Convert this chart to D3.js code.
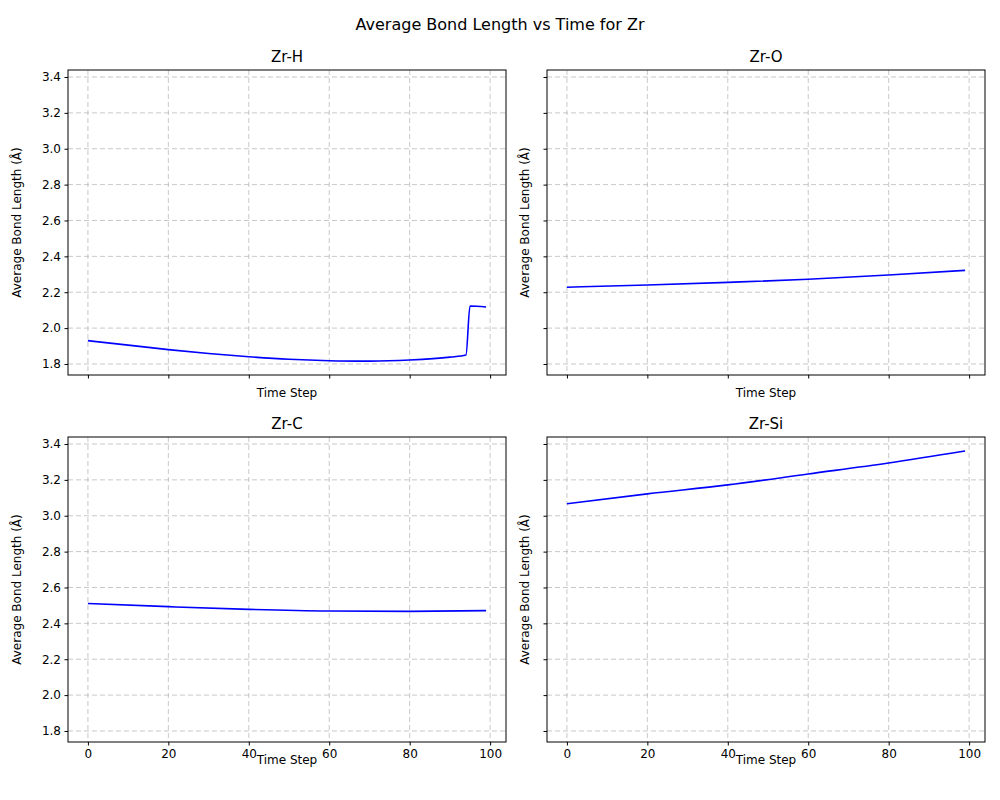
<!DOCTYPE html><html><head><script src="https://cdn.jsdelivr.net/npm/d3@7"></script>
<style>body{margin:0;background:#fff}text{font-family:"DejaVu Sans",sans-serif}</style></head><body><svg id="c" width="1000" height="800"></svg>
<script>
const titles=["Zr-H","Zr-O","Zr-C","Zr-Si"];
const tH=[0,10,20,30,40,50,60,67,70,80,90,94,95,99];
const vH=[1.93,1.905,1.88,1.858,1.84,1.826,1.818,1.816,1.816,1.822,1.838,1.85,2.123,2.118];
const tO=[0,20,40,60,80,99];
const vO=[2.228,2.24,2.255,2.272,2.296,2.322];
const tC=[0,20,40,60,80,99];
const vC=[2.511,2.493,2.478,2.469,2.467,2.471];
const tS=[0,20,40,60,80,99];
const vS=[3.067,3.122,3.172,3.233,3.294,3.361];
const xTicks=[0,20,40,60,80,100];
const yTicks=[1.8,2.0,2.2,2.4,2.6,2.8,3.0,3.2,3.4];
const series=[[tH,vH],[tO,vO],[tC,vC],[tS,vS]];
const svg=d3.select("#c");
svg.append("text").attr("x",500).attr("y",30).attr("text-anchor","middle").attr("font-size",16).text("Average Bond Length vs Time for Zr");
const panels=[[68,70],[547,70],[68,437],[547,437]];
const W=438,H=305;
panels.forEach((p,i)=>{
 const g=svg.append("g").attr("transform",`translate(${p[0]},${p[1]})`);
 const x=d3.scaleLinear().domain([-4.95,103.95]).range([0,W]);
 const y=d3.scaleLinear().domain([1.7385,3.439]).range([H,0]);
 g.selectAll(".gx").data(xTicks).join("line").attr("x1",d=>x(d)).attr("x2",d=>x(d)).attr("y1",0).attr("y2",H).attr("stroke","#b0b0b0").attr("stroke-opacity",0.7).attr("stroke-dasharray","5,3");
 g.selectAll(".gy").data(yTicks).join("line").attr("y1",d=>y(d)).attr("y2",d=>y(d)).attr("x1",0).attr("x2",W).attr("stroke","#b0b0b0").attr("stroke-opacity",0.7).attr("stroke-dasharray","5,3");
 const bottom=i>=2, left=true;
 const xa=g.append("g").attr("transform",`translate(0,${H})`).call(d3.axisBottom(x).tickValues(xTicks).tickSize(3.5).tickPadding(3.5).tickFormat(bottom?d3.format("d"):""));
 const ya=g.append("g").call(d3.axisLeft(y).tickValues(yTicks).tickSize(3.5).tickPadding(3.5).tickFormat(i%2==0?d3.format(".1f"):""));
 [xa,ya].forEach(a=>{a.select(".domain").remove();a.selectAll("text").attr("font-size",12).attr("fill","#000").style("font-family","DejaVu Sans");a.selectAll("line").attr("stroke","#000");});
 g.append("rect").attr("width",W).attr("height",H).attr("fill","none").attr("stroke","#000").attr("stroke-width",1);
 const [ts,vs]=series[i];
 g.append("path").datum(ts.map((t,k)=>[t,vs[k]])).attr("d",d3.line().x(d=>x(d[0])).y(d=>y(d[1])).curve(d3.curveMonotoneX)).attr("fill","none").attr("stroke","#0000ff").attr("stroke-width",1.6);
 g.append("text").attr("x",W/2).attr("y",-8).attr("text-anchor","middle").attr("font-size",15).text(titles[i]);
 g.append("text").attr("x",W/2).attr("y",H+22).attr("text-anchor","middle").attr("font-size",12).text("Time Step");
 g.append("text").attr("transform",`translate(${-i%2==0?-47:-18},${H/2}) rotate(-90)`).attr("text-anchor","middle").attr("font-size",12).text("Average Bond Length (Å)");
});
</script></body></html>
